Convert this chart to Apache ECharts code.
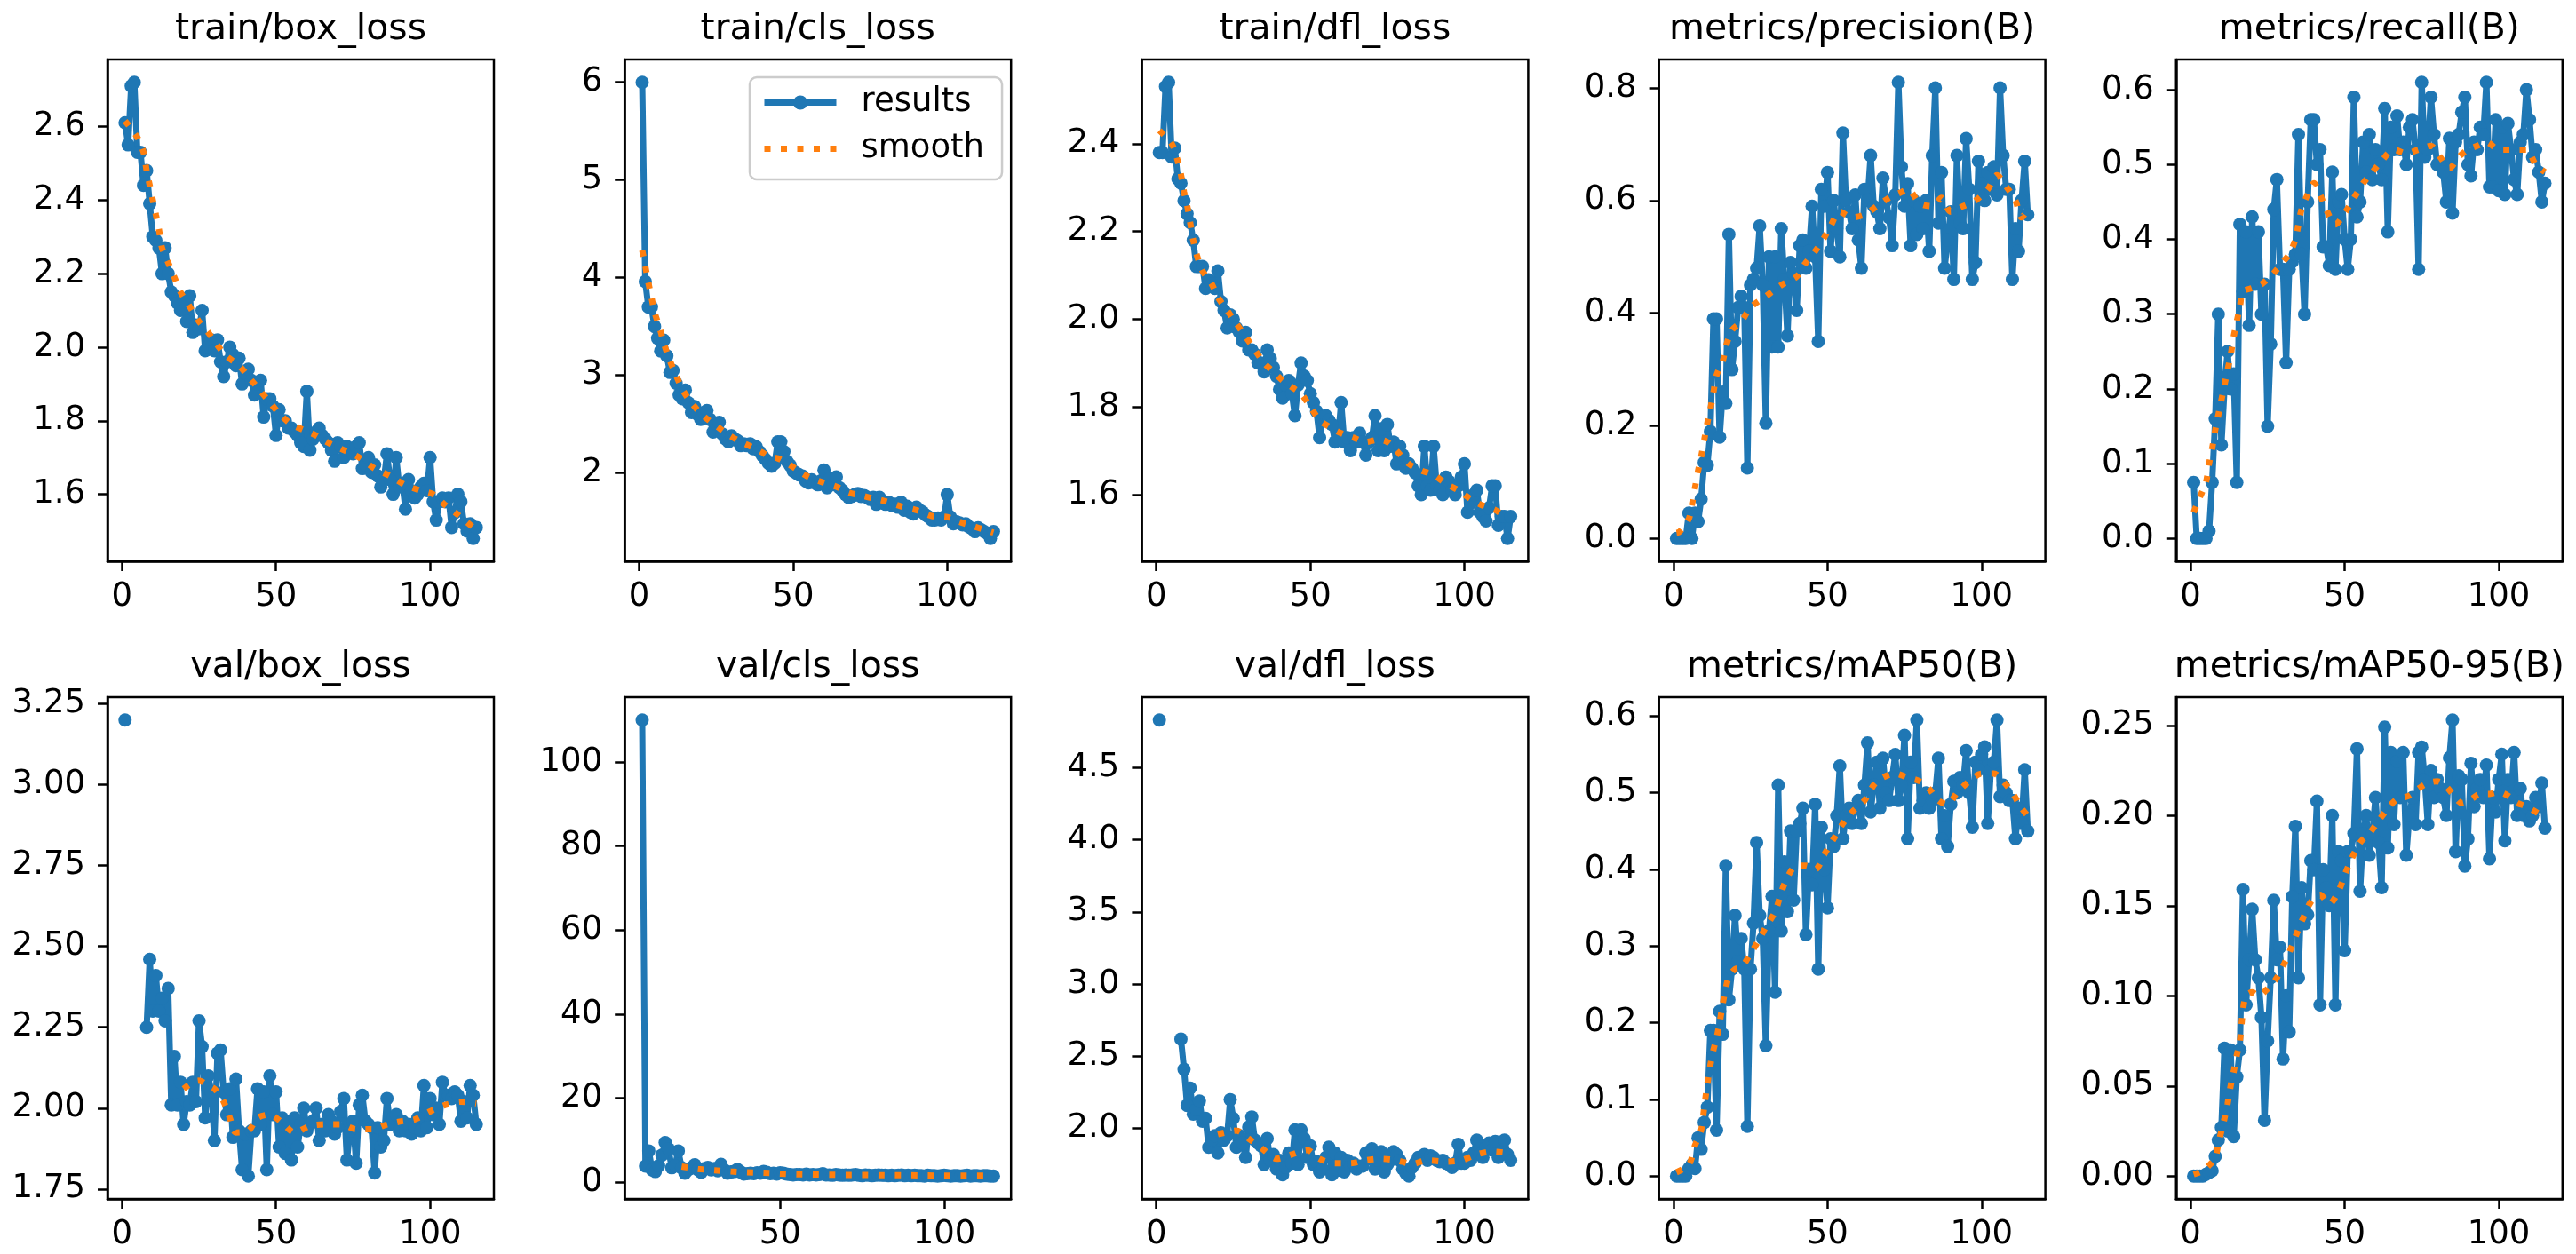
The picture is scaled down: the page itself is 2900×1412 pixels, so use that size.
<!DOCTYPE html>
<html>
<head>
<meta charset="utf-8">
<script src="https://cdn.jsdelivr.net/npm/echarts@6/dist/echarts.min.js"></script>
<style>
html,body{margin:0;padding:0;background:#ffffff;}
#chart{width:2900px;height:1412px;}
</style>
</head>
<body>
<div id="chart"></div>
<script>
// ---------------- data ----------------
const panelTitles = ["train/box_loss","train/cls_loss","train/dfl_loss","metrics/precision(B)","metrics/recall(B)",
                     "val/box_loss","val/cls_loss","val/dfl_loss","metrics/mAP50(B)","metrics/mAP50-95(B)"];
const legendNames = ["results","smooth"];

const trainBoxLoss = [2.61,2.55,2.71,2.72,2.53,2.53,2.44,2.48,2.39,2.30,
 2.29,2.27,2.20,2.27,2.20,2.15,2.14,2.12,2.10,2.13,
 2.07,2.14,2.04,2.06,2.05,2.10,1.99,2.00,2.02,1.99,
 2.02,1.96,1.92,1.96,2.00,1.98,1.95,1.97,1.90,1.93,
 1.94,1.91,1.87,1.90,1.91,1.81,1.86,1.86,1.84,1.76,
 1.83,1.80,1.80,1.78,1.78,1.77,1.76,1.74,1.73,1.88,
 1.72,1.75,1.77,1.78,1.76,1.75,1.74,1.72,1.69,1.74,
 1.73,1.70,1.73,1.72,1.71,1.73,1.74,1.67,1.68,1.70,
 1.66,1.68,1.65,1.62,1.64,1.71,1.64,1.60,1.70,1.62,
 1.63,1.56,1.64,1.61,1.59,1.60,1.62,1.63,1.61,1.70,
 1.58,1.53,1.58,1.59,1.58,1.59,1.51,1.55,1.60,1.58,
 1.52,1.50,1.52,1.48,1.51];

const trainClsLoss = [6.00,3.96,3.70,3.70,3.50,3.38,3.25,3.36,3.20,3.03,
 3.05,2.92,2.80,2.76,2.85,2.72,2.62,2.68,2.60,2.55,
 2.62,2.64,2.55,2.42,2.50,2.52,2.40,2.35,2.32,2.38,
 2.35,2.33,2.28,2.30,2.28,2.30,2.25,2.27,2.22,2.18,
 2.14,2.10,2.07,2.10,2.32,2.32,2.22,2.12,2.08,2.02,
 2.00,1.98,1.97,1.92,1.90,1.93,1.90,1.88,1.92,2.03,
 1.85,1.95,1.88,1.96,1.85,1.82,1.78,1.75,1.76,1.78,
 1.79,1.76,1.77,1.75,1.73,1.75,1.68,1.75,1.70,1.68,
 1.70,1.67,1.68,1.65,1.70,1.62,1.66,1.60,1.58,1.65,
 1.62,1.60,1.57,1.55,1.52,1.52,1.54,1.52,1.55,1.78,
 1.55,1.48,1.50,1.49,1.47,1.48,1.45,1.43,1.40,1.44,
 1.42,1.40,1.38,1.33,1.40];

const trainDflLoss = [2.38,2.38,2.53,2.54,2.37,2.39,2.32,2.31,2.27,2.24,
 2.22,2.18,2.12,2.12,2.12,2.07,2.09,2.08,2.07,2.11,
 2.04,2.02,1.98,2.01,2.00,1.98,1.97,1.95,1.97,1.93,
 1.93,1.92,1.90,1.90,1.88,1.93,1.91,1.89,1.87,1.84,
 1.82,1.85,1.86,1.83,1.78,1.85,1.90,1.87,1.86,1.83,
 1.81,1.79,1.73,1.77,1.78,1.77,1.76,1.72,1.73,1.81,
 1.72,1.73,1.70,1.73,1.72,1.74,1.72,1.69,1.72,1.73,
 1.78,1.70,1.75,1.70,1.76,1.71,1.72,1.67,1.71,1.69,
 1.66,1.67,1.66,1.65,1.62,1.60,1.71,1.62,1.61,1.71,
 1.62,1.61,1.60,1.64,1.63,1.61,1.60,1.62,1.64,1.67,
 1.56,1.58,1.60,1.61,1.56,1.55,1.54,1.57,1.62,1.62,
 1.53,1.55,1.55,1.50,1.55];

const precisionB = [0.0,0.0,0.0,0.0,0.045,0.0,0.045,0.03,0.07,0.135,
 0.13,0.19,0.39,0.39,0.18,0.26,0.24,0.54,0.30,0.35,
 0.41,0.43,0.41,0.125,0.45,0.46,0.48,0.555,0.45,0.205,
 0.50,0.34,0.50,0.34,0.55,0.46,0.36,0.49,0.47,0.405,
 0.52,0.53,0.48,0.51,0.59,0.50,0.35,0.62,0.59,0.65,
 0.51,0.60,0.55,0.50,0.72,0.60,0.58,0.55,0.61,0.53,
 0.48,0.62,0.60,0.68,0.59,0.58,0.55,0.64,0.60,0.57,
 0.52,0.61,0.81,0.66,0.59,0.63,0.52,0.60,0.54,0.59,
 0.55,0.60,0.51,0.68,0.80,0.56,0.65,0.48,0.53,0.58,
 0.46,0.68,0.56,0.55,0.71,0.62,0.46,0.49,0.67,0.63,
 0.60,0.65,0.62,0.66,0.61,0.80,0.68,0.62,0.62,0.46,
 0.55,0.51,0.60,0.67,0.575];

const recallB = [0.075,0.0,0.0,0.0,0.0,0.01,0.075,0.16,0.30,0.125,
 0.20,0.25,0.20,0.22,0.075,0.42,0.33,0.41,0.285,0.43,
 0.34,0.41,0.30,0.34,0.15,0.26,0.44,0.48,0.36,0.36,
 0.235,0.36,0.37,0.38,0.54,0.38,0.30,0.45,0.56,0.56,
 0.50,0.52,0.39,0.39,0.365,0.49,0.36,0.45,0.46,0.40,
 0.36,0.40,0.59,0.43,0.45,0.53,0.49,0.54,0.48,0.52,
 0.50,0.48,0.575,0.41,0.55,0.52,0.565,0.52,0.53,0.50,
 0.55,0.56,0.52,0.36,0.61,0.51,0.52,0.59,0.54,0.50,
 0.50,0.49,0.45,0.535,0.435,0.53,0.54,0.57,0.59,0.50,
 0.485,0.53,0.52,0.55,0.54,0.61,0.47,0.47,0.56,0.465,
 0.55,0.46,0.555,0.52,0.48,0.46,0.53,0.54,0.60,0.56,
 0.51,0.52,0.49,0.45,0.475];

const valBoxLoss = [3.20,null,null,null,null,null,null,2.25,2.46,2.30,
 2.41,2.30,2.34,2.27,2.37,2.01,2.16,2.01,2.08,1.95,
 2.02,2.01,2.08,2.02,2.27,2.19,1.97,2.10,2.05,1.90,
 2.17,2.18,2.05,1.98,2.06,1.91,2.09,1.93,1.81,1.92,
 1.79,1.93,1.93,2.06,1.95,2.05,1.81,2.10,1.98,2.05,
 1.88,1.97,1.86,1.96,1.84,1.97,1.88,1.95,2.00,1.93,
 1.95,1.96,2.00,1.90,1.95,1.93,1.98,1.96,1.92,1.94,
 1.99,2.03,1.84,1.93,1.96,1.83,2.01,2.04,1.96,1.95,
 1.94,1.80,1.94,1.88,1.90,2.03,1.95,1.97,1.98,1.93,
 1.96,1.93,1.95,1.92,1.94,1.97,1.93,2.07,1.94,2.03,
 1.98,2.00,1.95,2.08,2.04,2.04,2.03,2.05,2.04,1.96,
 2.02,1.97,2.07,2.04,1.95];

const valClsLoss = [null,null,null,null,null,null,null,110,3.9,7.5,
 3.0,2.6,4.0,6.5,9.5,8.0,3.5,4.0,7.5,3.5,
 2.2,3.0,3.5,4.2,3.0,2.4,3.3,3.6,3.0,3.3,
 2.8,4.3,3.0,2.2,2.5,2.6,3.1,2.5,2.0,2.1,
 2.2,2.1,2.3,2.2,2.6,2.4,2.1,2.2,2.0,2.3,
 2.2,2.0,1.9,1.8,1.9,1.9,1.8,2.0,1.8,1.9,
 1.8,1.9,2.1,1.8,1.8,1.7,1.9,1.8,1.7,1.8,
 1.7,1.8,1.9,1.7,1.6,1.8,1.7,1.6,1.7,1.8,
 1.7,1.7,1.6,1.7,1.6,1.7,1.8,1.6,1.7,1.6,
 1.7,1.6,1.6,1.5,1.7,1.6,1.6,1.5,1.6,1.7,
 1.6,1.5,1.6,1.6,1.5,1.6,1.7,1.5,1.6,1.6,
 1.5,1.6,1.6,1.5,1.5];

const valDflLoss = [4.83,null,null,null,null,null,null,2.62,2.41,2.16,
 2.28,2.10,2.13,2.19,2.05,2.07,1.87,1.92,1.95,1.83,
 1.97,1.92,1.95,2.20,2.07,1.87,1.95,1.90,1.80,2.01,
 2.08,1.92,1.90,1.88,1.75,1.93,1.78,1.82,1.72,1.78,
 1.68,1.73,1.83,1.76,1.99,1.75,1.99,1.93,1.80,1.88,
 1.75,1.77,1.70,1.72,1.80,1.87,1.68,1.83,1.71,1.80,
 1.70,1.78,1.74,1.76,1.72,1.74,1.74,1.83,1.79,1.86,
 1.72,1.78,1.84,1.70,1.75,1.78,1.84,1.82,1.78,1.72,
 1.69,1.67,1.73,1.76,1.80,1.80,1.82,1.78,1.81,1.80,
 1.78,1.77,1.78,1.76,1.75,1.73,1.76,1.89,1.76,1.76,
 1.80,1.78,1.83,1.92,1.82,1.80,1.87,1.90,1.85,1.91,
 1.80,1.84,1.92,1.82,1.78];

const mAP50B = [0.0,0.0,0.0,0.0,0.01,0.015,0.01,0.05,0.035,0.07,
 0.09,0.19,0.19,0.06,0.215,0.185,0.405,0.23,0.27,0.34,
 0.28,0.31,0.27,0.065,0.27,0.33,0.435,0.34,0.31,0.17,
 0.32,0.365,0.24,0.51,0.32,0.41,0.345,0.45,0.36,0.45,
 0.46,0.48,0.315,0.40,0.38,0.485,0.27,0.455,0.40,0.35,
 0.44,0.43,0.47,0.535,0.44,0.47,0.48,0.46,0.48,0.49,
 0.46,0.51,0.565,0.475,0.51,0.54,0.48,0.545,0.50,0.49,
 0.52,0.55,0.49,0.51,0.575,0.44,0.54,0.52,0.595,0.48,
 0.49,0.50,0.48,0.49,0.50,0.545,0.44,0.47,0.43,0.485,
 0.515,0.50,0.52,0.51,0.555,0.50,0.455,0.54,0.53,0.55,
 0.56,0.46,0.53,0.54,0.595,0.495,0.51,0.50,0.49,0.49,
 0.44,0.48,0.46,0.53,0.45];

const mAP5095B = [0.0,0.0,0.0,0.0,0.001,0.002,0.003,0.011,0.02,0.027,
 0.071,0.025,0.07,0.022,0.055,0.07,0.159,0.095,0.12,0.148,
 0.12,0.11,0.088,0.031,0.075,0.11,0.153,0.12,0.127,0.065,
 0.10,0.08,0.155,0.194,0.11,0.16,0.14,0.145,0.175,0.17,
 0.208,0.095,0.17,0.16,0.15,0.20,0.095,0.18,0.175,0.125,
 0.18,0.18,0.19,0.237,0.158,0.19,0.20,0.178,0.19,0.21,
 0.185,0.16,0.249,0.182,0.235,0.195,0.23,0.21,0.235,0.178,
 0.20,0.21,0.195,0.235,0.238,0.22,0.195,0.225,0.21,0.22,
 0.215,0.21,0.20,0.232,0.253,0.18,0.222,0.22,0.172,0.187,
 0.229,0.205,0.215,0.22,0.21,0.228,0.176,0.21,0.202,0.22,
 0.234,0.186,0.22,0.21,0.235,0.20,0.215,0.20,0.205,0.197,
 0.20,0.21,0.205,0.218,0.193];

// smoothed curves, read as [epoch, value] points along the dotted line
const smoothTrainBox = [[1,2.615],[5,2.57],[7,2.53],[8,2.48],[9,2.44],[10,2.40],[11,2.36],[12,2.32],[13,2.27],[15,2.23],[17,2.19],[19,2.15],[22,2.11],[25,2.07],[28,2.04],[31,2.005],[34,1.975],[38,1.95],[42,1.91],[45,1.88],[48,1.85],[51,1.82],[55,1.79],[59,1.775],[63,1.76],[67,1.74],[72,1.72],[77,1.70],[82,1.67],[87,1.65],[92,1.625],[97,1.61],[101,1.60],[105,1.57],[109,1.545],[114,1.51]];
const smoothTrainCls = [[1,4.28],[2,4.12],[3,3.95],[4,3.80],[5,3.65],[7,3.45],[8,3.33],[10,3.15],[12,3.00],[14,2.86],[16,2.76],[18,2.68],[20,2.61],[23,2.53],[26,2.46],[29,2.39],[33,2.32],[37,2.26],[40,2.21],[42,2.17],[45,2.15],[48,2.10],[51,2.04],[55,1.96],[60,1.90],[64,1.86],[68,1.80],[72,1.77],[76,1.74],[80,1.71],[85,1.66],[90,1.62],[95,1.56],[100,1.55],[104,1.50],[108,1.46],[112,1.42],[115,1.39]];
const smoothTrainDfl = [[1,2.43],[5,2.40],[7,2.36],[8,2.33],[9,2.29],[10,2.26],[11,2.22],[12,2.18],[13,2.15],[15,2.11],[18,2.08],[20,2.05],[23,2.02],[26,1.99],[29,1.96],[32,1.93],[35,1.90],[38,1.88],[41,1.86],[44,1.845],[47,1.83],[50,1.80],[53,1.77],[56,1.755],[60,1.74],[64,1.73],[68,1.72],[72,1.725],[75,1.72],[78,1.70],[82,1.67],[86,1.655],[90,1.645],[94,1.625],[98,1.61],[102,1.59],[106,1.575],[110,1.565],[114,1.545]];
const smoothPrecision = [[1,0.01],[2,0.012],[5,0.035],[6,0.06],[7,0.09],[8,0.12],[9,0.145],[10,0.175],[11,0.205],[12,0.23],[13,0.26],[14,0.29],[16,0.315],[17,0.34],[19,0.37],[22,0.385],[25,0.41],[30,0.43],[35,0.45],[40,0.465],[43,0.49],[46,0.51],[49,0.535],[51,0.555],[54,0.58],[58,0.57],[62,0.575],[66,0.59],[70,0.605],[74,0.615],[76,0.62],[80,0.595],[84,0.59],[87,0.605],[90,0.58],[94,0.59],[98,0.60],[102,0.62],[105,0.645],[108,0.625],[111,0.60],[113,0.57],[115,0.585]];
const smoothRecall = [[1,0.035],[3,0.055],[5,0.075],[6,0.10],[7,0.12],[8,0.145],[9,0.165],[10,0.185],[11,0.205],[12,0.225],[13,0.245],[14,0.27],[15,0.29],[16,0.31],[17,0.33],[20,0.335],[23,0.34],[27,0.355],[30,0.37],[32,0.38],[34,0.40],[36,0.44],[38,0.46],[40,0.475],[42,0.46],[44,0.44],[47,0.42],[50,0.435],[53,0.455],[56,0.475],[59,0.49],[62,0.505],[66,0.52],[70,0.515],[74,0.52],[78,0.525],[81,0.51],[84,0.495],[87,0.51],[90,0.52],[93,0.525],[96,0.53],[100,0.52],[103,0.52],[106,0.52],[109,0.52],[112,0.50],[115,0.49]];
const smoothValBox = [[20,2.06],[23,2.08],[25,2.085],[28,2.07],[30,2.06],[33,2.02],[35,1.97],[37,1.925],[41,1.93],[44,1.97],[48,1.98],[52,1.955],[56,1.925],[61,1.945],[66,1.95],[71,1.95],[76,1.935],[81,1.935],[86,1.95],[91,1.96],[95,1.965],[100,1.99],[105,2.01],[110,2.02],[115,2.015]];
const smoothValCls = [[20,3.8],[25,3.2],[30,2.9],[35,2.6],[40,2.4],[45,2.3],[50,2.1],[55,1.95],[60,1.9],[65,1.85],[70,1.8],[75,1.8],[80,1.75],[85,1.72],[90,1.7],[95,1.66],[100,1.62],[105,1.6],[110,1.6],[115,1.6]];
const smoothValDfl = [[20,1.96],[23,1.975],[26,1.985],[30,1.93],[35,1.85],[39,1.79],[44,1.82],[49,1.85],[53,1.79],[58,1.76],[63,1.76],[68,1.78],[73,1.79],[78,1.78],[83,1.755],[88,1.78],[94,1.77],[99,1.78],[104,1.82],[109,1.84],[114,1.83]];
const smoothMAP50 = [[1,0.005],[5,0.015],[7,0.04],[9,0.06],[10,0.09],[11,0.12],[12,0.145],[13,0.165],[14,0.18],[15,0.20],[16,0.225],[17,0.245],[18,0.26],[20,0.27],[22,0.272],[25,0.29],[28,0.31],[30,0.325],[33,0.345],[35,0.37],[37,0.39],[40,0.405],[43,0.405],[46,0.40],[49,0.42],[52,0.44],[55,0.46],[58,0.475],[62,0.49],[65,0.51],[68,0.52],[72,0.525],[76,0.52],[80,0.515],[83,0.505],[86,0.49],[89,0.485],[92,0.50],[96,0.515],[100,0.525],[104,0.525],[107,0.515],[110,0.50],[113,0.48],[115,0.47]];
const smoothMAP5095 = [[1,0.001],[4,0.003],[6,0.006],[8,0.01],[9,0.018],[10,0.025],[11,0.032],[12,0.04],[13,0.05],[14,0.058],[15,0.067],[16,0.075],[17,0.092],[18,0.10],[20,0.102],[22,0.10],[25,0.104],[28,0.11],[31,0.12],[33,0.128],[35,0.137],[37,0.145],[39,0.152],[42,0.156],[45,0.151],[48,0.158],[50,0.167],[52,0.175],[55,0.185],[58,0.19],[61,0.197],[64,0.204],[67,0.209],[71,0.211],[74,0.215],[77,0.218],[80,0.219],[83,0.216],[85,0.212],[88,0.207],[91,0.209],[94,0.212],[97,0.212],[100,0.213],[103,0.211],[106,0.207],[109,0.205],[114,0.20]];

// tick labels
const xTicks = [0, 50, 100];
const yTicksTrainBox = [1.6, 1.8, 2.0, 2.2, 2.4, 2.6];
const yTicksTrainCls = [2, 3, 4, 5, 6];
const yTicksTrainDfl = [1.6, 1.8, 2.0, 2.2, 2.4];
const yTicksPrecision = [0.0, 0.2, 0.4, 0.6, 0.8];
const yTicksRecall = [0.0, 0.1, 0.2, 0.3, 0.4, 0.5, 0.6];
const yTicksValBox = [1.75, 2.00, 2.25, 2.50, 2.75, 3.00, 3.25];
const yTicksValCls = [0, 20, 40, 60, 80, 100];
const yTicksValDfl = [2.0, 2.5, 3.0, 3.5, 4.0, 4.5];
const yTicksMAP50 = [0.0, 0.1, 0.2, 0.3, 0.4, 0.5, 0.6];
const yTicksMAP5095 = [0.00, 0.05, 0.10, 0.15, 0.20, 0.25];

// ---------------- layout / style ----------------
const panels = [
  {values: trainBoxLoss, smooth: smoothTrainBox, yTicks: yTicksTrainBox, dec: 1},
  {values: trainClsLoss, smooth: smoothTrainCls, yTicks: yTicksTrainCls, dec: 0},
  {values: trainDflLoss, smooth: smoothTrainDfl, yTicks: yTicksTrainDfl, dec: 1},
  {values: precisionB, smooth: smoothPrecision, yTicks: yTicksPrecision, dec: 1},
  {values: recallB, smooth: smoothRecall, yTicks: yTicksRecall, dec: 1},
  {values: valBoxLoss, smooth: smoothValBox, yTicks: yTicksValBox, dec: 2},
  {values: valClsLoss, smooth: smoothValCls, yTicks: yTicksValCls, dec: 0},
  {values: valDflLoss, smooth: smoothValDfl, yTicks: yTicksValDfl, dec: 1},
  {values: mAP50B, smooth: smoothMAP50, yTicks: yTicksMAP50, dec: 1},
  {values: mAP5095B, smooth: smoothMAP5095, yTicks: yTicksMAP5095, dec: 2}
];

const COL_LEFT0 = 121, COL_PITCH = 582.2, GRID_W = 435, GRID_H = 565;
const ROW_TOP = [67, 785];
const TITLE_TOP = [13, 731];
const FONT = "DejaVu Sans";
const BLUE = "#1f77b4", ORANGE = "#ff7f0e";
const TICK_FS = 37, TITLE_FS = 41;
const LINE_W = 7, MARK_SIZE = 15, DOT_W = 7, DOT_GAP = 11.5;
// legend handle for the dotted "smooth" line: five square dots
const DOTTED_ICON = "path://M0 0h7v7h-7zM18.5 0h7v7h-7zM37 0h7v7h-7zM55.5 0h7v7h-7zM74 0h7v7h-7z";

const grids = [], xAxes = [], yAxes = [], titles = [], series = [];

panels.forEach((p, i) => {
  const row = Math.floor(i / 5), col = i % 5;
  const left = COL_LEFT0 + col * COL_PITCH;
  const top = ROW_TOP[row];
  grids.push({left: left, top: top, width: GRID_W, height: GRID_H, show: true,
              borderColor: "#000", borderWidth: 2.5, backgroundColor: "#fff", containLabel: false});

  // extents like matplotlib autoscale (5% margins)
  const pts = [];
  p.values.forEach((v, k) => { if (v !== null) pts.push([k + 1, v]); });
  const xs = pts.map(d => d[0]), ys = pts.map(d => d[1]);
  const xMin = Math.min(...xs), xMax = Math.max(...xs);
  const yMin = Math.min(...ys), yMax = Math.max(...ys);
  const xPad = 0.05 * (xMax - xMin), yPad = 0.05 * (yMax - yMin);
  const xr = [xMin - xPad, xMax + xPad], yr = [yMin - yPad, yMax + yPad];
  const xt = xTicks.filter(v => v >= xr[0] && v <= xr[1]);
  const yt = p.yTicks.filter(v => v >= yr[0] && v <= yr[1]);

  xAxes.push({type: "value", gridIndex: i, min: xr[0], max: xr[1],
    axisLine: {show: true, onZero: false, lineStyle: {color: "#000", width: 2.5}},
    axisTick: {show: true, length: 11, lineStyle: {color: "#000", width: 2.5}, customValues: xt},
    axisLabel: {show: true, customValues: xt, fontSize: TICK_FS, fontFamily: FONT, color: "#000", margin: 22,
                formatter: v => String(Math.round(v))},
    splitLine: {show: false}});
  yAxes.push({type: "value", gridIndex: i, min: yr[0], max: yr[1],
    axisLine: {show: true, onZero: false, lineStyle: {color: "#000", width: 2.5}},
    axisTick: {show: true, length: 11, lineStyle: {color: "#000", width: 2.5}, customValues: yt},
    axisLabel: {show: true, customValues: yt, fontSize: TICK_FS, fontFamily: FONT, color: "#000", margin: 25,
                formatter: v => Number(v).toFixed(p.dec)},
    splitLine: {show: false}});

  titles.push({text: panelTitles[i], left: left + GRID_W / 2, top: TITLE_TOP[row], textAlign: "center", padding: 0,
    textStyle: {fontSize: TITLE_FS, fontWeight: "normal", fontFamily: FONT, color: "#000"}});

  series.push({type: "line", name: legendNames[0], xAxisIndex: i, yAxisIndex: i,
    data: p.values.map((v, k) => [k + 1, v === null ? "-" : v]),
    symbol: "circle", symbolSize: MARK_SIZE, showSymbol: true, connectNulls: false,
    lineStyle: {color: BLUE, width: LINE_W}, itemStyle: {color: BLUE, borderWidth: 0},
    emphasis: {disabled: true}, z: 2, animation: false});
  series.push({type: "line", name: legendNames[1], xAxisIndex: i, yAxisIndex: i,
    data: p.smooth, symbol: "none", smooth: 0.3,
    lineStyle: {color: ORANGE, width: DOT_W, type: [DOT_W, DOT_GAP], cap: "butt"}, itemStyle: {color: ORANGE},
    emphasis: {disabled: true}, z: 3, animation: false});
});

const option = {
  animation: false,
  backgroundColor: "#ffffff",
  title: titles,
  grid: grids,
  xAxis: xAxes,
  yAxis: yAxes,
  legend: {
    data: [
      {name: legendNames[0], itemStyle: {color: BLUE, borderWidth: 0}, lineStyle: {color: BLUE, width: LINE_W}},
      {name: legendNames[1], icon: DOTTED_ICON, itemStyle: {color: ORANGE, borderWidth: 0}}
    ],
    orient: "vertical", left: 844, top: 87,
    itemWidth: 81, itemHeight: 20, itemGap: 15,
    padding: [10, 20, 16, 13],
    borderColor: "#cccccc", borderWidth: 2.5, borderRadius: 8,
    backgroundColor: "rgba(255,255,255,0.8)",
    selectedMode: false,
    textStyle: {fontSize: TICK_FS, fontFamily: FONT, color: "#000", padding: [0, 0, 0, 23]}
  },
  series: series
};

const chart = echarts.init(document.getElementById("chart"), null, {renderer: "canvas", width: 2900, height: 1412});
chart.setOption(option);
</script>
</body>
</html>
